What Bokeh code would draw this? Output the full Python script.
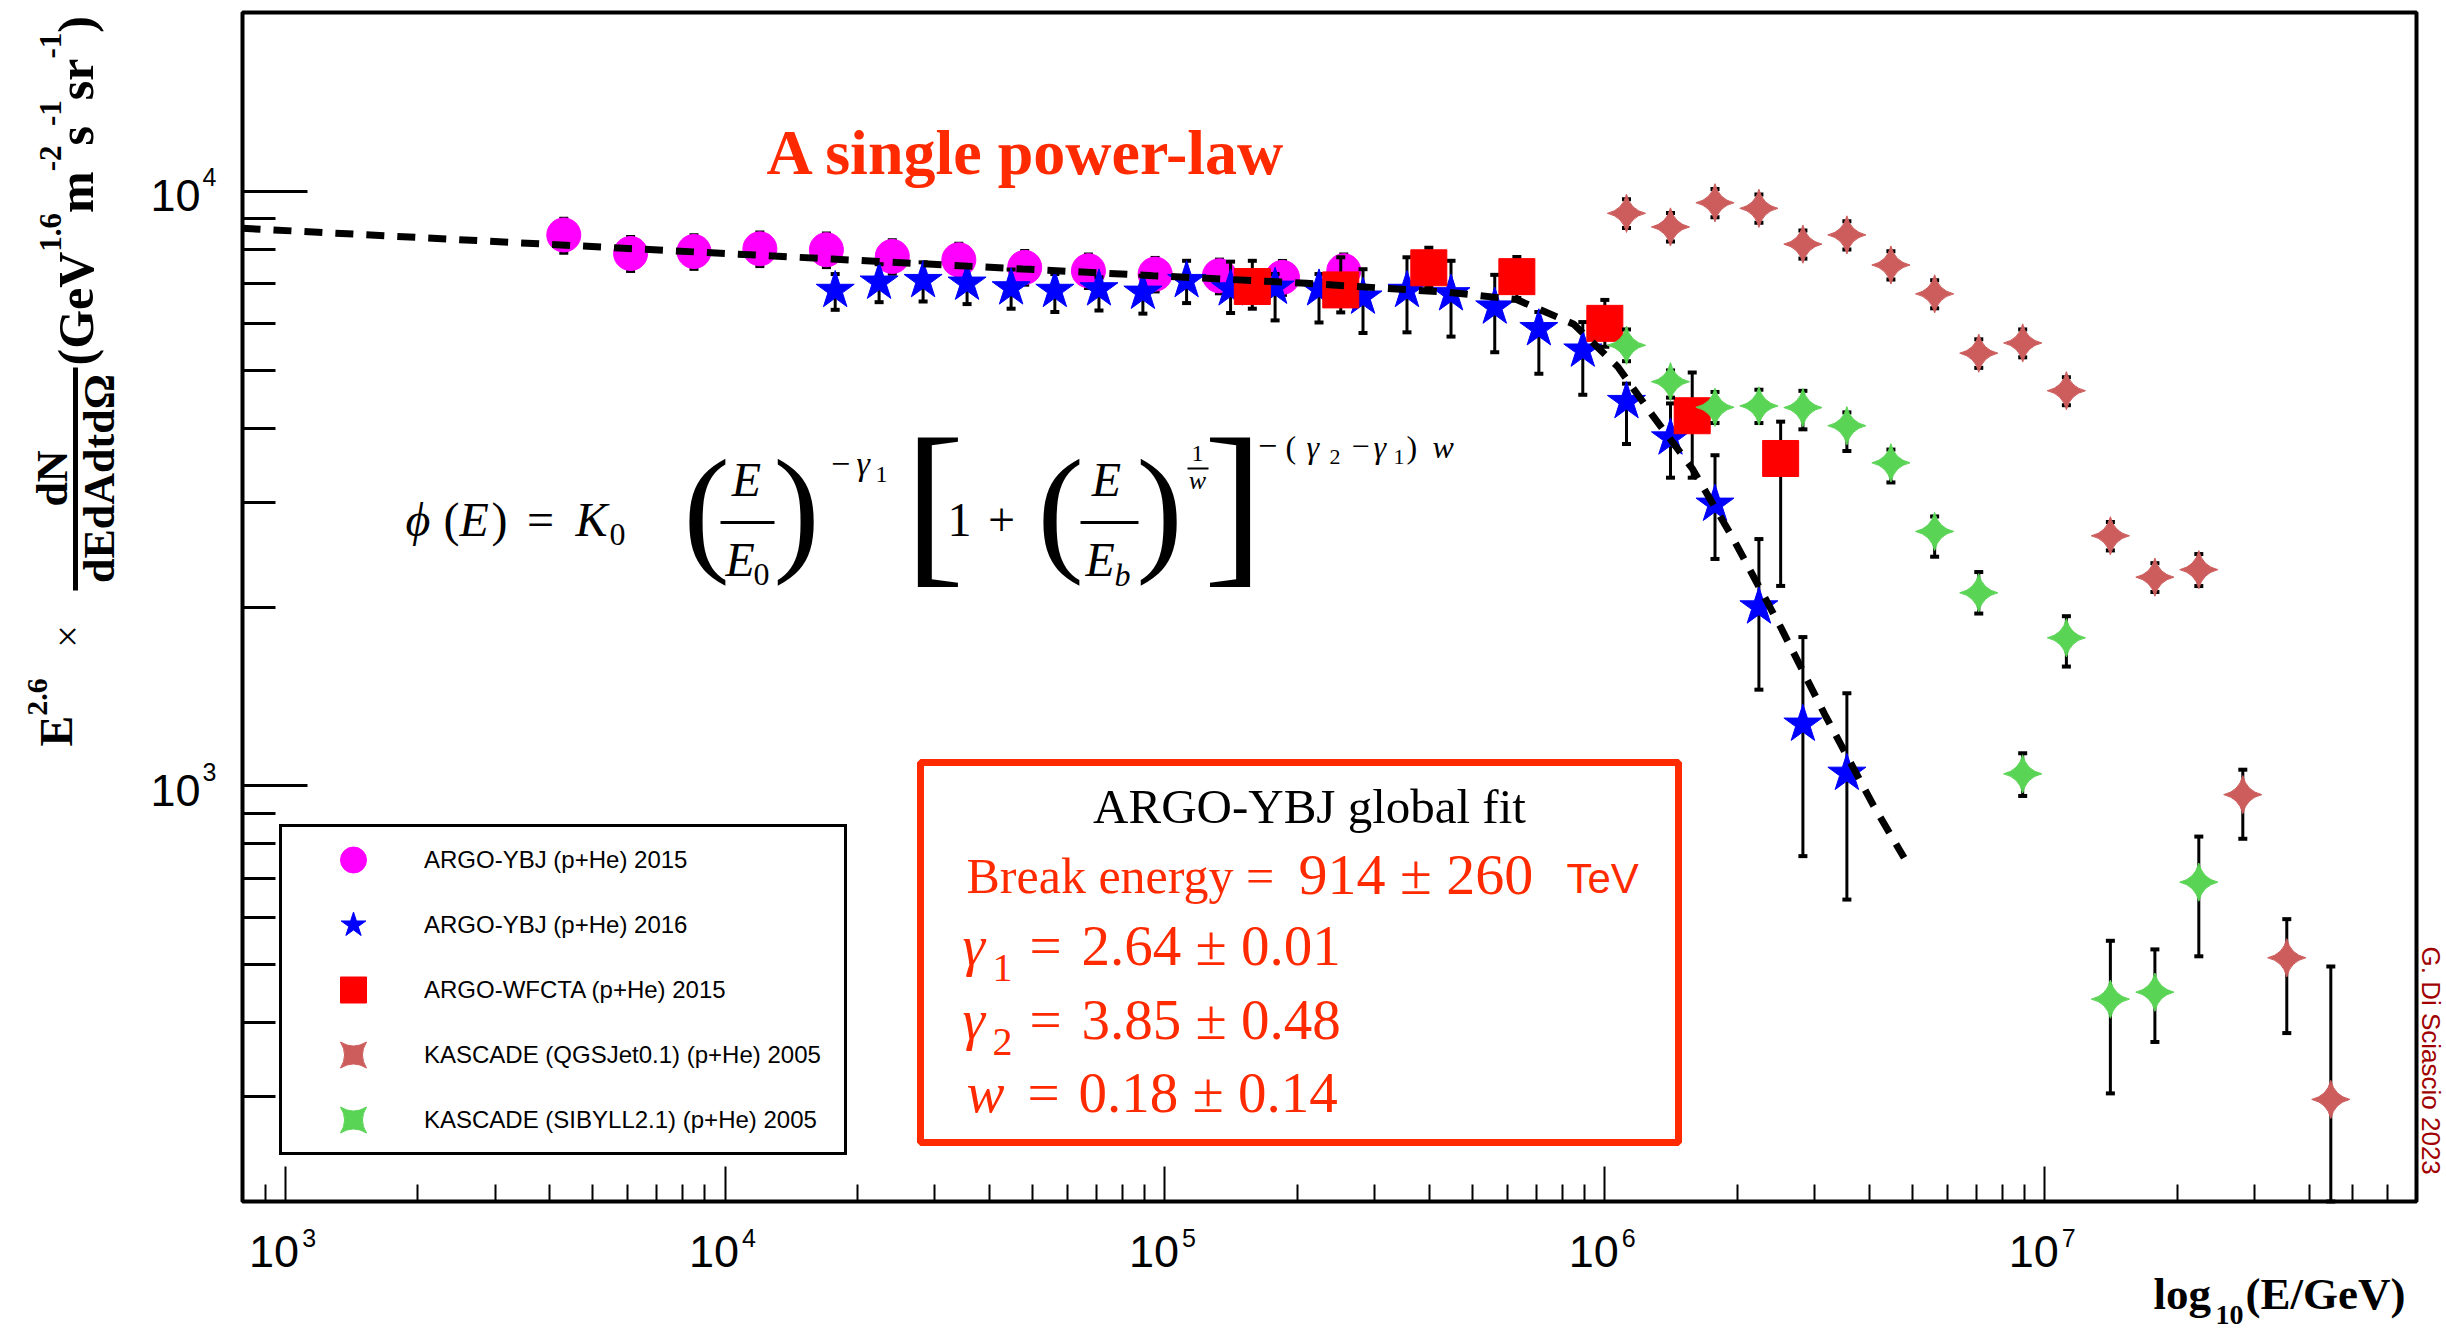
import math
from bokeh.plotting import figure
from bokeh.models import (Range1d, FixedTicker, Label, Legend, LegendItem,
                          BoxAnnotation, Arrow, ColumnDataSource)
from bokeh.embed import file_html
from bokeh.resources import INLINE

# ---------------- data ----------------
ybj15_E = [4.3e3, 6.1e3, 8.5e3, 1.2e4, 1.7e4, 2.4e4, 3.4e4, 4.8e4, 6.7e4, 9.5e4, 1.33e5, 1.85e5, 2.55e5]
ybj15_F = [8450, 7865, 7925, 8008, 7980, 7775, 7675, 7453, 7356, 7262, 7213, 7170, 7356]
ybj15_lo = [7890, 7350, 7410, 7490, 7460, 7270, 7180, 6970, 6880, 6790, 6740, 6700, 6880]
ybj15_hi = [9000, 8380, 8440, 8530, 8500, 8280, 8170, 7940, 7830, 7730, 7680, 7640, 7830]

ybj16_E = [1.78e4, 2.24e4, 2.82e4, 3.55e4, 4.47e4, 5.62e4, 7.08e4, 8.91e4, 1.12e5, 1.41e5,
           1.78e5, 2.24e5, 2.82e5, 3.55e5, 4.47e5, 5.62e5, 7.08e5, 8.91e5, 1.12e6, 1.41e6,
           1.78e6, 2.24e6, 2.82e6, 3.55e6]
ybj16_F = [6815, 7036, 7080, 7008, 6883, 6815, 6856, 6767, 7080, 6856, 6900, 6856, 6640, 6815,
           6726, 6390, 5876, 5408, 4431, 3848, 2977, 2000, 1270, 1050]
ybj16_lo = [6323, 6513, 6530, 6465, 6350, 6270, 6306, 6230, 6490, 6245, 6069, 6020, 5780, 5795,
            5700, 5365, 4936, 4550, 3760, 3300, 2409, 1452, 762, 644]
ybj16_hi = [7262, 7545, 7600, 7480, 7390, 7262, 7170, 7215, 7645, 7620, 7262, 7262, 7400, 7750,
            7645, 7240, 6270, 6030, 4750, 4400, 3600, 2602, 1780, 1432]

wfcta_E = [1.58e5, 2.51e5, 3.98e5, 6.31e5, 1.0e6, 1.58e6, 2.51e6]
wfcta_F = [6920, 6830, 7440, 7190, 6000, 4195, 3555]
wfcta_lo = [6350, 6260, 6900, 6620, 5480, 3300, 2170]
wfcta_hi = [7645, 7750, 8040, 7760, 6570, 4960, 4100]

kq_E = [1.12e6, 1.41e6, 1.78e6, 2.24e6, 2.82e6, 3.55e6, 4.47e6, 5.62e6, 7.08e6, 8.91e6,
        1.12e7, 1.41e7, 1.78e7, 2.24e7, 2.82e7, 3.55e7, 4.47e7]
kq_F = [9189, 8716, 9572, 9367, 8154, 8451, 7521, 6726, 5345, 5561, 4622, 2635, 2245, 2311, 967, 514, 297]
kq_lo = [8680, 8240, 9050, 8860, 7710, 7990, 7110, 6360, 5050, 5260, 4370, 2490, 2120, 2169, 815, 384, 200]
kq_hi = [9700, 9200, 10100, 9880, 8600, 8910, 7930, 7090, 5640, 5860, 4870, 2780, 2370, 2455, 1065, 597, 497]

ks_E = [1.12e6, 1.41e6, 1.78e6, 2.24e6, 2.82e6, 3.55e6, 4.47e6, 5.62e6, 7.08e6, 8.91e6,
        1.12e7, 1.41e7, 1.78e7, 2.24e7]
ks_F = [5512, 4786, 4335, 4358, 4330, 4036, 3496, 2680, 2113, 1048, 1775, 438, 450, 689]
ks_lo = [5182, 4500, 4078, 4078, 3980, 3660, 3240, 2430, 1950, 962, 1588, 304, 371, 517]
ks_hi = [5860, 5000, 4600, 4640, 4620, 4250, 3680, 2840, 2290, 1135, 1930, 549, 531, 822]

fit_E = [800, 3.9e3, 1.75e4, 4.75e4, 9.4e4, 2.1e5, 4.4e5, 6.3e5, 8.5e5, 1.07e6, 1.29e6,
         1.58e6, 1.95e6, 2.51e6, 3.16e6, 4.07e6, 4.79e6]
fit_F = [8670, 8154, 7697, 7406, 7218, 7007, 6768, 6580, 5980, 5070, 4180, 3420, 2620, 1850,
         1320, 930, 757]

legend_labels = ["ARGO-YBJ (p+He) 2015", "ARGO-YBJ (p+He) 2016", "ARGO-WFCTA (p+He) 2015",
                 "KASCADE (QGSJet0.1) (p+He) 2005", "KASCADE (SIBYLL2.1) (p+He) 2005"]
x_tick_exps = [3, 4, 5, 6, 7]
y_tick_exps = [3, 4]

# ---------------- layout ----------------
W, H = 2446, 1337
# the drawn axes box (pixels) and its data limits
FL, FR, FT, FB = 242, 2416, 12, 1201
XMIN, XMAX = 800.0, 7.0e7
YMIN, YMAX = 200.0, 2.0e4
# the bokeh frame covers (almost) the whole canvas so that no text gets clipped
CL, CR, CT, CB = 10, W, 0, H - 10
SERIF = "Liberation Serif"
SANS = "Liberation Sans"
RED = "#ff2a00"
KB = 0.37   # baseline correction (fraction of font size)

LX0, LX1 = math.log10(XMIN), math.log10(XMAX)
LY0, LY1 = math.log10(YMIN), math.log10(YMAX)
KX = (FR - FL) / (LX1 - LX0)
KY = (FB - FT) / (LY1 - LY0)


def dx(X):
    return 10 ** (LX0 + (X - FL) / KX)


def dy(Y):
    return 10 ** (LY1 - (Y - FT) / KY)


def sx(v):
    return FL + (math.log10(v) - LX0) * KX


def sy(v):
    return FT + (LY1 - math.log10(v)) * KY


p = figure(width=W, height=H, x_axis_type="log", y_axis_type="log",
           x_range=Range1d(dx(CL), dx(CR)), y_range=Range1d(dy(CB), dy(CT)),
           output_backend="svg", toolbar_location=None,
           min_border_left=CL, min_border_right=W - CR,
           min_border_top=CT, min_border_bottom=H - CB)
p.title.visible = False
p.xgrid.visible = False
p.ygrid.visible = False
p.background_fill_color = "white"
p.border_fill_color = "white"
p.outline_line_color = None

x_major = [10 ** k for k in x_tick_exps]
y_major = [10 ** k for k in y_tick_exps]
x_minor = [900] + [k * 10 ** d for d in range(3, 8) for k in range(2, 10) if k * 10 ** d < 7e7]
y_minor = [k * 10 ** d for d in range(2, 4) for k in range(2, 10) if k * 10 ** d > 200]
p.xaxis.ticker = FixedTicker(ticks=x_major, minor_ticks=x_minor)
p.yaxis.ticker = FixedTicker(ticks=y_major, minor_ticks=y_minor)
p.xaxis.major_label_overrides = {t: "" for t in x_major}
p.yaxis.major_label_overrides = {t: "" for t in y_major}
p.xaxis.fixed_location = YMIN
p.yaxis.fixed_location = XMIN
for ax, maj, mnr, tw in [(p.xaxis, 35, 17, 2), (p.yaxis, 65, 33, 3)]:
    ax.axis_line_color = None
    ax.major_tick_in = maj
    ax.major_tick_out = 0
    ax.minor_tick_in = mnr
    ax.minor_tick_out = 0
    ax.major_tick_line_width = tw
    ax.minor_tick_line_width = tw
    ax.major_tick_line_color = "black"
    ax.minor_tick_line_color = "black"
    ax.major_label_text_font_size = "1px"
    ax.major_label_standoff = 0

# axes box
p.add_layout(BoxAnnotation(left=XMIN, right=XMAX, bottom=YMIN, top=YMAX,
                           fill_color=None, line_color="black", line_alpha=1.0,
                           line_width=4, level="underlay"))


def T(text, X, Y, size, style="normal", align="left", font=SERIF, color="black", angle=0.0):
    X = X - KB * size * math.sin(angle)
    Y = Y - KB * size * math.cos(angle)
    p.add_layout(Label(x=dx(X), y=dy(Y), text=text, text_font=font,
                       text_font_size=f"{size}px", text_font_style=style,
                       text_align=align, text_baseline="alphabetic",
                       text_color=color, angle=angle))


def BAR(X1, Y1, X2, Y2, w=3):
    p.add_layout(Arrow(start=None, end=None, x_start=dx(X1), y_start=dy(Y1),
                       x_end=dx(X2), y_end=dy(Y2), line_width=w, line_color="black"))


def series(E, F, lo, hi, marker, size, color, angle=0.0):
    src = ColumnDataSource(dict(x=E, y=F, lo=lo, hi=hi))
    p.segment(x0="x", y0="lo", x1="x", y1="hi", source=src, line_color="black", line_width=3)
    p.scatter(x="x", y="lo", source=src, marker="dash", size=9, line_color="black", line_width=4)
    p.scatter(x="x", y="hi", source=src, marker="dash", size=9, line_color="black", line_width=4)
    return p.scatter(x="x", y="y", source=src, marker=marker, size=size,
                     fill_color=color, line_color=color, angle=angle)


r1 = series(ybj15_E, ybj15_F, ybj15_lo, ybj15_hi, "circle", 34, "#ff00ff")
r2 = series(ybj16_E, ybj16_F, ybj16_lo, ybj16_hi, "star", 40, "#0000ff")
r3 = series(wfcta_E, wfcta_F, wfcta_lo, wfcta_hi, "square", 36, "#ff0000")
r4 = series(kq_E, kq_F, kq_lo, kq_hi, "square_pin", 27, "#cd5c5c", math.pi / 4)
r5 = series(ks_E, ks_F, ks_lo, ks_hi, "square_pin", 27, "#59d454", math.pi / 4)

p.line(fit_E, fit_F, line_color="black", line_width=7, line_dash="18 13")

legend = Legend(items=[LegendItem(label=l, renderers=[r]) for l, r in
                       zip(legend_labels, [r1, r2, r3, r4, r5])],
                location=(279 - CL, CB - 1155), orientation="vertical",
                border_line_color="black", border_line_width=3, border_line_alpha=1.0,
                background_fill_color="white", background_fill_alpha=1.0,
                padding=0, spacing=0, margin=0, glyph_height=65, glyph_width=142,
                label_standoff=0, label_width=420, label_height=65,
                label_text_font=SANS, label_text_font_size="24px",
                label_text_color="black", label_text_baseline="middle")
p.add_layout(legend)

# ---------------- tick labels ----------------
for k in x_tick_exps:
    X = sx(10 ** k)
    T("10", X + 14, 1268, 45, font=SANS, align="right")
    T(str(k), X + 17, 1247, 25, font=SANS)
for k in y_tick_exps:
    Y = sy(10 ** k)
    T("10", 200, Y + 21, 45, font=SANS, align="right")
    T(str(k), 202, Y - 5, 25, font=SANS)

# x title
T("log", 2153, 1310, 45, "bold")
T("10", 2215, 1325, 28, "bold")
T("(E/GeV)", 2245, 1310, 45, "bold")

# y title (rotated)
TB = {'(': 333, ')': 333, 'G': 778, 'e': 444, 'V': 722, '1': 500, '.': 250, '6': 500,
      'm': 833, '-': 333, '2': 500, 's': 389, 'r': 444, 'E': 667}


def wid(s, size):
    return sum(TB[c] for c in s) * size / 1000.0


A = math.pi / 2
yy = 746
T("E", 73, yy, 46, "bold", angle=A)
yy -= wid("E", 46)
T("2.6", 48, yy, 30, "bold", angle=A)
T("\u00d7", 82, 636, 40, align="center", angle=A)
T("dN", 68, 478, 44, "bold", align="center", angle=A)
BAR(75, 590, 75, 367, 5)
T("dEdAdtd\u03a9", 115, 478, 44, "bold", align="center", angle=A)
yy = 365
for txt, sup in [("(GeV", False), ("1.6", True), ("m", False), ("-2", True), ("s", False),
                 ("-1", True), ("sr", False), ("-1", True), (")", False)]:
    size = 31 if sup else 50
    T(txt, 61 if sup else 94, yy, size, "bold", angle=A)
    yy -= wid(txt, size)

# title
T("A single power-law", 766, 176, 64, "bold", color=RED)

# formula
T("\u03d5", 405, 537, 48, "italic")
T("(", 443, 537, 48)
T("E", 459, 537, 48, "italic")
T(")", 491, 537, 48)
T("=", 540, 537, 48, align="center")
T("K", 575, 537, 48, "italic")
T("0", 609, 546, 32)
T("(", 706, 560, 140, align="center")
T("E", 746, 497, 48, "italic", align="center")
BAR(720, 522, 774, 522, 3)
T("E", 725, 577, 48, "italic")
T("0", 753, 586, 32)
T(")", 796, 560, 140, align="center")
T("\u2212", 840, 476, 34, align="center")
T("\u03b3", 856, 476, 34, "italic")
T("1", 875, 483, 24)
T("[", 934, 569, 180, align="center")
T("1", 959, 537, 48, align="center")
T("+", 1001, 537, 48, align="center")
T("(", 1060, 560, 140, align="center")
T("E", 1106, 497, 48, "italic", align="center")
BAR(1080, 522, 1138, 522, 3)
T("E", 1085, 577, 48, "italic")
T("b", 1114, 586, 32, "italic")
T(")", 1159, 560, 140, align="center")
T("1", 1197, 462, 24, align="center")
BAR(1187, 468, 1208, 468, 2)
T("w", 1197, 490, 26, "italic", align="center")
T("]", 1233, 569, 180, align="center")
T("\u2212", 1267, 458, 34, align="center")
T("(", 1285, 458, 32)
T("\u03b3", 1306, 458, 32, "italic")
T("2", 1329, 465, 22)
T("\u2212", 1360, 458, 32, align="center")
T("\u03b3", 1373, 458, 32, "italic")
T("1", 1393, 465, 22)
T(")", 1406, 458, 32)
T("w", 1432, 458, 32, "italic")

# fit results box
p.add_layout(BoxAnnotation(left=dx(920), right=dx(1678), top=dy(762), bottom=dy(1142),
                           fill_color=None, line_color=RED, line_alpha=1.0, line_width=7))
T("ARGO-YBJ global fit", 1309, 824, 49, align="center")
T("Break energy =", 966, 894, 50, color=RED)
T("914 \u00b1 260", 1298, 895, 58, color=RED)
T("TeV", 1566, 894, 42, font=SANS, color=RED)
for base, sub, val in [(966, "1", "2.64 \u00b1 0.01"), (1040, "2", "3.85 \u00b1 0.48")]:
    T("\u03b3", 962, base, 57, "italic", color=RED)
    T(sub, 992, base + 16, 40, color=RED)
    T("=", 1045, base, 57, align="center", color=RED)
    T(val, 1081, base, 57, color=RED)
T("w", 966, 1113, 57, "italic", color=RED)
T("=", 1043, 1113, 57, align="center", color=RED)
T("0.18 \u00b1 0.14", 1078, 1113, 57, color=RED)

# author tag
T("G. Di Sciascio 2023", 2421, 946, 26, font=SANS, color="#a00000", angle=-A)

open("out.html", "w").write(file_html(p, INLINE))
